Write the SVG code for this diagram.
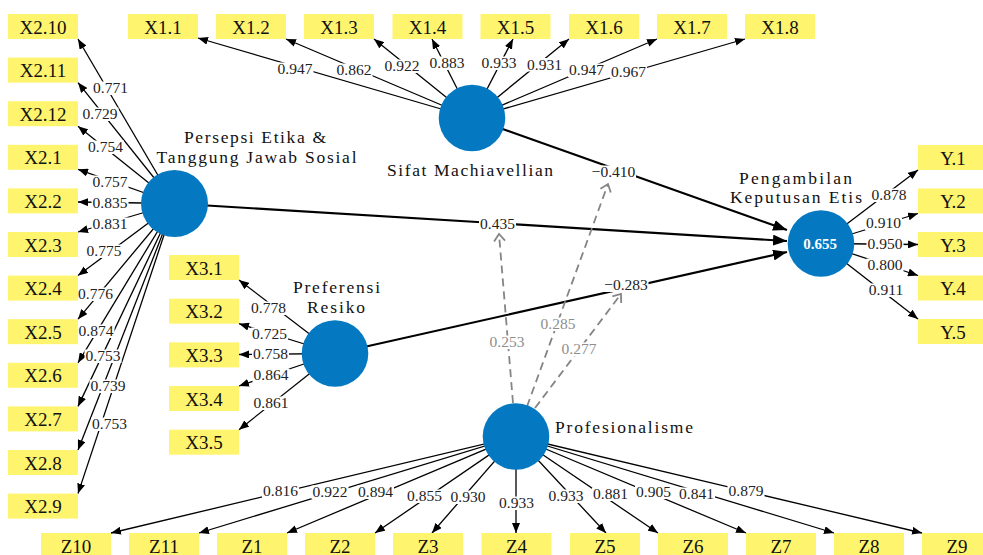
<svg xmlns="http://www.w3.org/2000/svg" width="983" height="555" viewBox="0 0 983 555">
<style>
.box{fill:#fff46e}
.bt{font-family:"Liberation Serif",serif;font-size:19px;fill:#111;text-anchor:middle}
.nt{font-family:"Liberation Serif",serif;font-size:17.5px;fill:#111;text-anchor:middle}
.lv{fill:#0479c2}
.o{stroke:#000;stroke-width:1.3;fill:none;marker-end:url(#ah)}
.s{stroke:#000;stroke-width:2.1;fill:none;marker-end:url(#ahb)}
.m{stroke:#858585;stroke-width:1.8;fill:none;stroke-dasharray:8 5;marker-end:url(#ch)}
.bg rect{fill:#fff;height:13.5px}
.lbl{font-family:"Liberation Serif",serif;font-size:15.5px;fill:#222;text-anchor:middle}
.gl{fill:#8e8e8e}
.r2{font-family:"Liberation Serif",serif;font-size:15px;font-weight:bold;fill:#fff;text-anchor:middle}
</style>
<defs>
<marker id="ah" markerUnits="userSpaceOnUse" markerWidth="10" markerHeight="8" refX="10" refY="4" orient="auto"><path d="M0,0 L10,4 L0,8 z" fill="#000"/></marker>
<marker id="ahb" markerUnits="userSpaceOnUse" markerWidth="14" markerHeight="11" refX="14" refY="5.5" orient="auto"><path d="M0,0 L14,5.5 L0,11 z" fill="#000"/></marker>
<marker id="ch" markerUnits="userSpaceOnUse" markerWidth="12" markerHeight="14" refX="8" refY="7" orient="auto" overflow="visible"><path d="M1,1.5 L8,7 L1,12.5" fill="none" stroke="#858585" stroke-width="1.8"/></marker>
</defs>

<g id="connectors">
<!-- Persepsi -> X2 -->
<line class="o" x1="174.5" y1="203.5" x2="78" y2="39"/>
<line class="o" x1="174.5" y1="203.5" x2="78" y2="82.6"/>
<line class="o" x1="174.5" y1="203.5" x2="78" y2="126.2"/>
<line class="o" x1="174.5" y1="203.5" x2="78" y2="169.3"/>
<line class="o" x1="174.5" y1="203.5" x2="78" y2="202"/>
<line class="o" x1="174.5" y1="203.5" x2="78" y2="232"/>
<line class="o" x1="174.5" y1="203.5" x2="78" y2="275.6"/>
<line class="o" x1="174.5" y1="203.5" x2="78" y2="319.2"/>
<line class="o" x1="174.5" y1="203.5" x2="78" y2="362.8"/>
<line class="o" x1="174.5" y1="203.5" x2="78" y2="406.4"/>
<line class="o" x1="174.5" y1="203.5" x2="78" y2="450"/>
<line class="o" x1="174.5" y1="203.5" x2="78" y2="493.6"/>
<!-- Sifat -> X1 -->
<line class="o" x1="472" y1="118" x2="198" y2="38"/>
<line class="o" x1="472" y1="118" x2="286" y2="39"/>
<line class="o" x1="472" y1="118" x2="374" y2="39"/>
<line class="o" x1="472" y1="118" x2="432" y2="39"/>
<line class="o" x1="472" y1="118" x2="513" y2="39"/>
<line class="o" x1="472" y1="118" x2="569" y2="39"/>
<line class="o" x1="472" y1="118" x2="657" y2="39"/>
<line class="o" x1="472" y1="118" x2="745" y2="39"/>
<!-- Preferensi -> X3 -->
<line class="o" x1="335" y1="353.5" x2="239" y2="280"/>
<line class="o" x1="335" y1="353.5" x2="239" y2="323.7"/>
<line class="o" x1="335" y1="353.5" x2="239" y2="354.5"/>
<line class="o" x1="335" y1="353.5" x2="239" y2="386"/>
<line class="o" x1="335" y1="353.5" x2="239" y2="429.7"/>
<!-- Pengambilan -> Y -->
<line class="o" x1="821" y1="243.5" x2="918" y2="170"/>
<line class="o" x1="821" y1="243.5" x2="918" y2="213.5"/>
<line class="o" x1="821" y1="243.5" x2="918" y2="244.5"/>
<line class="o" x1="821" y1="243.5" x2="918" y2="275.5"/>
<line class="o" x1="821" y1="243.5" x2="918" y2="319"/>
<!-- Profesionalisme -> Z -->
<line class="o" x1="516" y1="436.5" x2="111" y2="533"/>
<line class="o" x1="516" y1="436.5" x2="199" y2="533"/>
<line class="o" x1="516" y1="436.5" x2="287" y2="533"/>
<line class="o" x1="516" y1="436.5" x2="375" y2="533"/>
<line class="o" x1="516" y1="436.5" x2="432" y2="533"/>
<line class="o" x1="516" y1="436.5" x2="516" y2="533"/>
<line class="o" x1="516" y1="436.5" x2="606" y2="533"/>
<line class="o" x1="516" y1="436.5" x2="658" y2="533"/>
<line class="o" x1="516" y1="436.5" x2="746" y2="533"/>
<line class="o" x1="516" y1="436.5" x2="834" y2="533"/>
<line class="o" x1="516" y1="436.5" x2="922" y2="533"/>
<!-- structural -->
<line class="s" x1="472" y1="118" x2="787" y2="230"/>
<line class="s" x1="174.5" y1="203.5" x2="787" y2="241"/>
<line class="s" x1="335" y1="353.5" x2="787" y2="252"/>
<!-- moderating -->
<line class="m" x1="513" y1="403" x2="499" y2="234"/>
<line class="m" x1="527" y1="406.5" x2="608" y2="184"/>
<line class="m" x1="535" y1="408" x2="621" y2="294"/>

<!-- label backgrounds -->
<g class="bg">
<rect x="92" y="81.5" width="37"/><rect x="81.5" y="107.5" width="37"/><rect x="87" y="140.5" width="37"/>
<rect x="91.5" y="175.5" width="37"/><rect x="91.5" y="196.5" width="37"/><rect x="91.5" y="217.5" width="37"/>
<rect x="85.5" y="244.5" width="37"/><rect x="77" y="287.5" width="37"/><rect x="77.5" y="324.5" width="37"/>
<rect x="84.5" y="349.5" width="37"/><rect x="89.5" y="379.5" width="37"/><rect x="91" y="417.5" width="37"/>
<rect x="276.5" y="62.5" width="37"/><rect x="335.5" y="63.5" width="37"/><rect x="383.5" y="59.5" width="37"/>
<rect x="428.5" y="56.5" width="37"/><rect x="480.5" y="56.5" width="37"/><rect x="526" y="58" width="37"/>
<rect x="568" y="63.5" width="37"/><rect x="610" y="65" width="37"/>
<rect x="250" y="301.5" width="37"/><rect x="251" y="327.5" width="37"/><rect x="252" y="347.5" width="37"/>
<rect x="252.5" y="368.5" width="37"/><rect x="252.5" y="396.5" width="37"/>
<rect x="870.5" y="188.5" width="37"/><rect x="865" y="216.5" width="37"/><rect x="866.5" y="237.5" width="37"/>
<rect x="866.5" y="258.5" width="37"/><rect x="867.5" y="283.5" width="37"/>
<rect x="262" y="484.5" width="37"/><rect x="311.5" y="485.5" width="37"/><rect x="357" y="485.5" width="37"/>
<rect x="406" y="489.5" width="37"/><rect x="449.5" y="490.5" width="37"/><rect x="498" y="496.5" width="37"/>
<rect x="547.5" y="489.5" width="37"/><rect x="592" y="487.5" width="37"/><rect x="635" y="485.5" width="37"/>
<rect x="678" y="487.5" width="37"/><rect x="727.5" y="484.5" width="37"/>
<rect x="479" y="217.5" width="37"/><rect x="591" y="165.5" width="45"/><rect x="603.5" y="278.5" width="45"/>
<rect x="488.5" y="335.5" width="37"/><rect x="539.5" y="317.5" width="37"/><rect x="560.5" y="342.5" width="37"/>
</g>

<!-- labels -->
<g>
<text class="lbl" x="110.5" y="93">0.771</text>
<text class="lbl" x="100" y="119">0.729</text>
<text class="lbl" x="105.5" y="152">0.754</text>
<text class="lbl" x="110" y="187">0.757</text>
<text class="lbl" x="110" y="208">0.835</text>
<text class="lbl" x="110" y="229">0.831</text>
<text class="lbl" x="104" y="256">0.775</text>
<text class="lbl" x="95.5" y="299">0.776</text>
<text class="lbl" x="96" y="336">0.874</text>
<text class="lbl" x="103" y="361">0.753</text>
<text class="lbl" x="108" y="391">0.739</text>
<text class="lbl" x="109.5" y="429">0.753</text>

<text class="lbl" x="295" y="74">0.947</text>
<text class="lbl" x="354" y="75">0.862</text>
<text class="lbl" x="402" y="71">0.922</text>
<text class="lbl" x="447" y="68">0.883</text>
<text class="lbl" x="499" y="68">0.933</text>
<text class="lbl" x="544.5" y="69.5">0.931</text>
<text class="lbl" x="586.5" y="75">0.947</text>
<text class="lbl" x="628.5" y="76.5">0.967</text>

<text class="lbl" x="268.5" y="313">0.778</text>
<text class="lbl" x="269.5" y="339">0.725</text>
<text class="lbl" x="270.5" y="359">0.758</text>
<text class="lbl" x="271" y="380">0.864</text>
<text class="lbl" x="271" y="408">0.861</text>

<text class="lbl" x="889" y="200">0.878</text>
<text class="lbl" x="883.5" y="228">0.910</text>
<text class="lbl" x="885" y="249">0.950</text>
<text class="lbl" x="885" y="270">0.800</text>
<text class="lbl" x="886" y="295">0.911</text>

<text class="lbl" x="280.5" y="496">0.816</text>
<text class="lbl" x="330" y="497">0.922</text>
<text class="lbl" x="375.5" y="497">0.894</text>
<text class="lbl" x="424.5" y="501">0.855</text>
<text class="lbl" x="468" y="502">0.930</text>
<text class="lbl" x="516.5" y="508">0.933</text>
<text class="lbl" x="566" y="501">0.933</text>
<text class="lbl" x="610.5" y="499">0.881</text>
<text class="lbl" x="653.5" y="497">0.905</text>
<text class="lbl" x="696.5" y="499">0.841</text>
<text class="lbl" x="746" y="496">0.879</text>

<text class="lbl" x="497.5" y="229">0.435</text>
<text class="lbl" x="613.5" y="177">−0.410</text>
<text class="lbl" x="626" y="290">−0.283</text>

<text class="lbl gl" x="507" y="347">0.253</text>
<text class="lbl gl" x="558" y="329">0.285</text>
<text class="lbl gl" x="579" y="354">0.277</text>
</g>
</g>

<!-- latent variables -->
<g id="lv-persepsi">
<circle class="lv" cx="174.5" cy="203.5" r="33.5"/>
<text class="nt" x="255" y="142.5" textLength="142" lengthAdjust="spacing">Persepsi Etika &amp;</text>
<text class="nt" x="256.5" y="162.5" textLength="200" lengthAdjust="spacing">Tanggung Jawab Sosial</text>
</g>
<g id="lv-sifat">
<circle class="lv" cx="472" cy="118" r="33.3"/>
<text class="nt" x="470" y="176" textLength="166" lengthAdjust="spacing">Sifat Machiavellian</text>
</g>
<g id="lv-preferensi">
<circle class="lv" cx="335" cy="353.5" r="33.3"/>
<text class="nt" x="336.5" y="292.5" textLength="87" lengthAdjust="spacing">Preferensi</text>
<text class="nt" x="336" y="313" textLength="58" lengthAdjust="spacing">Resiko</text>
</g>
<g id="lv-profesionalisme">
<circle class="lv" cx="516" cy="436.5" r="33.3"/>
<text class="nt" x="624" y="433" textLength="138" lengthAdjust="spacing">Profesionalisme</text>
</g>
<g id="lv-pengambilan">
<circle class="lv" cx="821" cy="243.5" r="33.3"/>
<text class="r2" x="820" y="249">0.655</text>
<text class="nt" x="795.5" y="183.5" textLength="113" lengthAdjust="spacing">Pengambilan</text>
<text class="nt" x="796" y="202.5" textLength="132" lengthAdjust="spacing">Keputusan Etis</text>
</g>

<!-- indicators X2 -->
<g id="ind-X2-10"><rect class="box" x="8" y="14" width="70" height="25"/><text class="bt" x="43" y="33.5">X2.10</text></g>
<g id="ind-X2-11"><rect class="box" x="8" y="57.6" width="70" height="25"/><text class="bt" x="43" y="77.1">X2.11</text></g>
<g id="ind-X2-12"><rect class="box" x="8" y="101.2" width="70" height="25"/><text class="bt" x="43" y="120.7">X2.12</text></g>
<g id="ind-X2-1"><rect class="box" x="8" y="144.8" width="70" height="25"/><text class="bt" x="43" y="164.3">X2.1</text></g>
<g id="ind-X2-2"><rect class="box" x="8" y="188.4" width="70" height="25"/><text class="bt" x="43" y="207.9">X2.2</text></g>
<g id="ind-X2-3"><rect class="box" x="8" y="232" width="70" height="25"/><text class="bt" x="43" y="251.5">X2.3</text></g>
<g id="ind-X2-4"><rect class="box" x="8" y="275.6" width="70" height="25"/><text class="bt" x="43" y="295.1">X2.4</text></g>
<g id="ind-X2-5"><rect class="box" x="8" y="319.2" width="70" height="25"/><text class="bt" x="43" y="338.7">X2.5</text></g>
<g id="ind-X2-6"><rect class="box" x="8" y="362.8" width="70" height="25"/><text class="bt" x="43" y="382.3">X2.6</text></g>
<g id="ind-X2-7"><rect class="box" x="8" y="406.4" width="70" height="25"/><text class="bt" x="43" y="425.9">X2.7</text></g>
<g id="ind-X2-8"><rect class="box" x="8" y="450" width="70" height="25"/><text class="bt" x="43" y="469.5">X2.8</text></g>
<g id="ind-X2-9"><rect class="box" x="8" y="493.6" width="70" height="25"/><text class="bt" x="43" y="513.1">X2.9</text></g>

<!-- indicators X1 -->
<g id="ind-X1-1"><rect class="box" x="128" y="14" width="70" height="25"/><text class="bt" x="163" y="33.5">X1.1</text></g>
<g id="ind-X1-2"><rect class="box" x="216" y="14" width="70" height="25"/><text class="bt" x="251" y="33.5">X1.2</text></g>
<g id="ind-X1-3"><rect class="box" x="304" y="14" width="70" height="25"/><text class="bt" x="339" y="33.5">X1.3</text></g>
<g id="ind-X1-4"><rect class="box" x="392.5" y="14" width="70" height="25"/><text class="bt" x="427.5" y="33.5">X1.4</text></g>
<g id="ind-X1-5"><rect class="box" x="480.5" y="14" width="70" height="25"/><text class="bt" x="515.5" y="33.5">X1.5</text></g>
<g id="ind-X1-6"><rect class="box" x="569" y="14" width="70" height="25"/><text class="bt" x="604" y="33.5">X1.6</text></g>
<g id="ind-X1-7"><rect class="box" x="657" y="14" width="70" height="25"/><text class="bt" x="692" y="33.5">X1.7</text></g>
<g id="ind-X1-8"><rect class="box" x="745" y="14" width="70" height="25"/><text class="bt" x="780" y="33.5">X1.8</text></g>

<!-- indicators X3 -->
<g id="ind-X3-1"><rect class="box" x="169" y="255" width="70" height="25"/><text class="bt" x="204" y="274.5">X3.1</text></g>
<g id="ind-X3-2"><rect class="box" x="169" y="298.7" width="70" height="25"/><text class="bt" x="204" y="318.2">X3.2</text></g>
<g id="ind-X3-3"><rect class="box" x="169" y="342.4" width="70" height="25"/><text class="bt" x="204" y="361.9">X3.3</text></g>
<g id="ind-X3-4"><rect class="box" x="169" y="386" width="70" height="25"/><text class="bt" x="204" y="405.5">X3.4</text></g>
<g id="ind-X3-5"><rect class="box" x="169" y="429.7" width="70" height="25"/><text class="bt" x="204" y="449.2">X3.5</text></g>

<!-- indicators Y -->
<g id="ind-Y-1"><rect class="box" x="918" y="145" width="70" height="25"/><text class="bt" x="953" y="164.5">Y.1</text></g>
<g id="ind-Y-2"><rect class="box" x="918" y="188.5" width="70" height="25"/><text class="bt" x="953" y="208">Y.2</text></g>
<g id="ind-Y-3"><rect class="box" x="918" y="232" width="70" height="25"/><text class="bt" x="953" y="251.5">Y.3</text></g>
<g id="ind-Y-4"><rect class="box" x="918" y="275.5" width="70" height="25"/><text class="bt" x="953" y="295">Y.4</text></g>
<g id="ind-Y-5"><rect class="box" x="918" y="319" width="70" height="25"/><text class="bt" x="953" y="338.5">Y.5</text></g>

<!-- indicators Z -->
<g id="ind-Z10"><rect class="box" x="41" y="533" width="70" height="25"/><text class="bt" x="76" y="552.5">Z10</text></g>
<g id="ind-Z11"><rect class="box" x="129" y="533" width="70" height="25"/><text class="bt" x="164" y="552.5">Z11</text></g>
<g id="ind-Z1"><rect class="box" x="217" y="533" width="70" height="25"/><text class="bt" x="252" y="552.5">Z1</text></g>
<g id="ind-Z2"><rect class="box" x="305" y="533" width="70" height="25"/><text class="bt" x="340" y="552.5">Z2</text></g>
<g id="ind-Z3"><rect class="box" x="393" y="533" width="70" height="25"/><text class="bt" x="428" y="552.5">Z3</text></g>
<g id="ind-Z4"><rect class="box" x="481.5" y="533" width="70" height="25"/><text class="bt" x="516.5" y="552.5">Z4</text></g>
<g id="ind-Z5"><rect class="box" x="570" y="533" width="70" height="25"/><text class="bt" x="605" y="552.5">Z5</text></g>
<g id="ind-Z6"><rect class="box" x="658" y="533" width="70" height="25"/><text class="bt" x="693" y="552.5">Z6</text></g>
<g id="ind-Z7"><rect class="box" x="746" y="533" width="70" height="25"/><text class="bt" x="781" y="552.5">Z7</text></g>
<g id="ind-Z8"><rect class="box" x="834" y="533" width="70" height="25"/><text class="bt" x="869" y="552.5">Z8</text></g>
<g id="ind-Z9"><rect class="box" x="922" y="533" width="70" height="25"/><text class="bt" x="957" y="552.5">Z9</text></g>
</svg>
